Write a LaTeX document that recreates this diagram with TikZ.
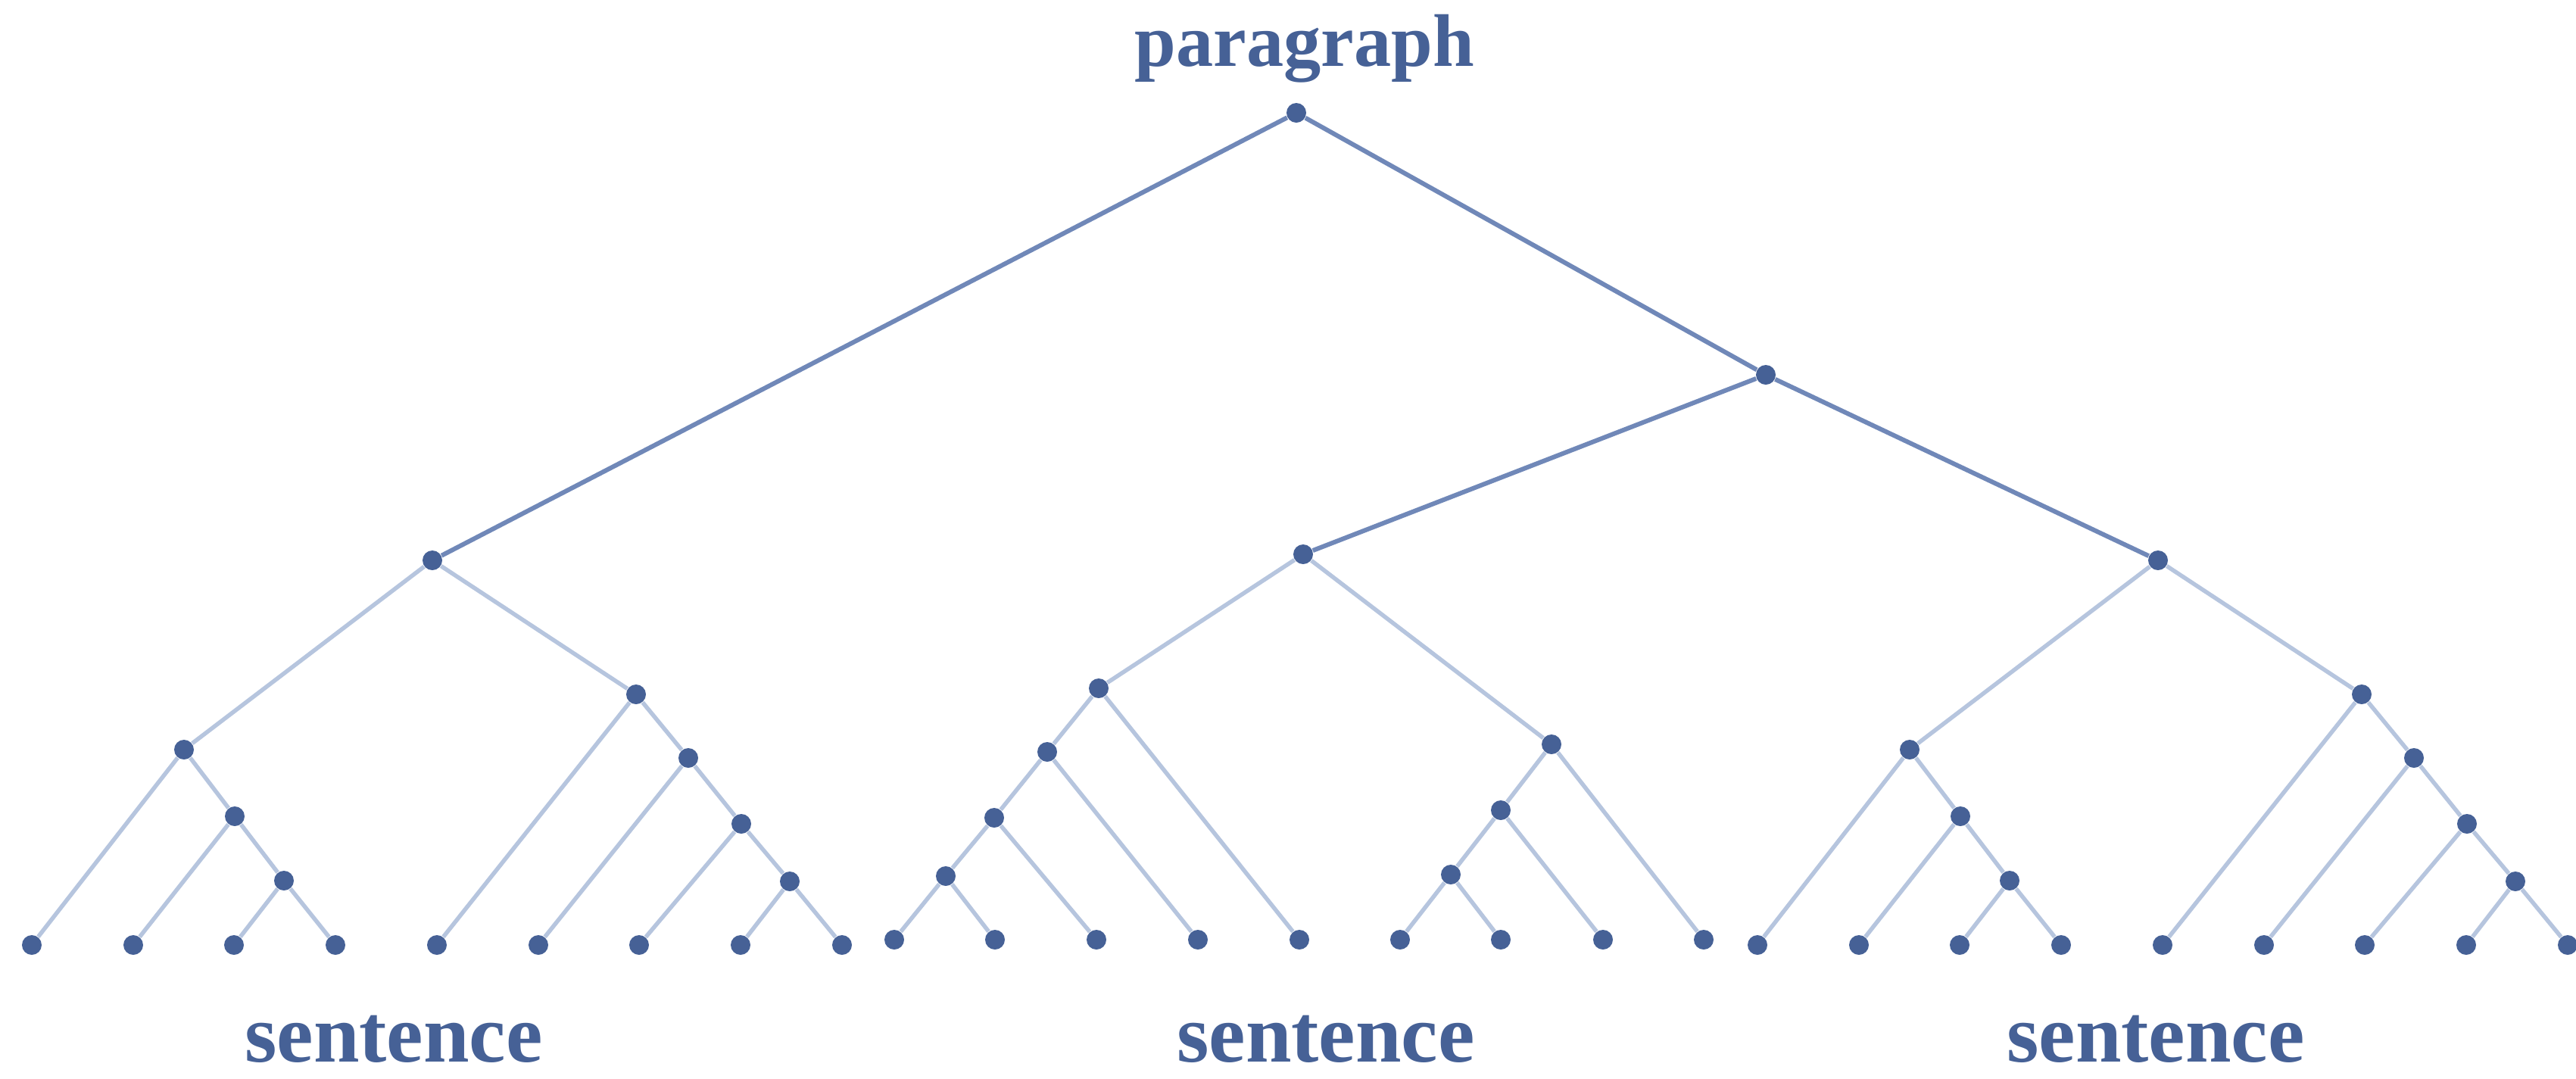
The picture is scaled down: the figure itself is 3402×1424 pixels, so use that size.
\documentclass[tikz,border=0pt]{standalone}
\usepackage{fontspec}
\setmainfont{Liberation Serif}
\usepackage{xcolor}
\definecolor{dotblue}{RGB}{70,97,150}
\definecolor{trunkblue}{RGB}{112,136,184}
\definecolor{twigblue}{RGB}{182,197,222}
\tikzset{
	treenode/.style = {
		circle,
		fill = dotblue,
		inner sep = 0pt,
		minimum size = 2.6mm,
	},
	trunk/.style = {draw = trunkblue, line width = 0.6mm},
	twig/.style = {draw = twigblue, line width = 0.55mm},
	heading/.style = {
		text = dotblue,
		inner sep = 0pt,
		anchor = base,
		font = \fontsize{31}{34}\selectfont\bfseries,
	}
}

\begin{document}
\begin{tikzpicture}[x = 0.1mm, y = -0.1mm]
	\useasboundingbox (0,0) rectangle (3402,1424);

	% top of the tree
	\node[heading, font = \fontsize{28}{32}\selectfont\bfseries](partitle) at (1723,87) {paragraph};
	\node[treenode](root) at (1712,149) {};
	\node[treenode](join) at (2332,495) {};

	% left and right sentence, same shape
	\foreach \s/\dx in {A/0, C/2279} {
		\node[treenode](\s) at (571+\dx,740) {};
		\node[treenode](\s1) at (243+\dx,990) {};
		\node[treenode](\s11) at (310+\dx,1078) {};
		\node[treenode](\s111) at (375+\dx,1163) {};
		\node[treenode](\s2) at (840+\dx,917) {};
		\node[treenode](\s21) at (909+\dx,1001) {};
		\node[treenode](\s211) at (979+\dx,1088) {};
		\node[treenode](\s2111) at (1043+\dx,1164) {};
		\foreach \i/\x in {1/42, 2/176, 3/309, 4/443, 5/577, 6/711, 7/844, 8/978, 9/1112}
			\node[treenode](leaf\s\i) at (\x+\dx,1248) {};

		\draw[twig](\s)--(\s1);
		\draw[twig](\s)--(\s2);
		\draw[twig](\s1)--(leaf\s1);
		\draw[twig](\s1)--(\s11);
		\draw[twig](\s11)--(leaf\s2);
		\draw[twig](\s11)--(\s111);
		\draw[twig](\s111)--(leaf\s3);
		\draw[twig](\s111)--(leaf\s4);
		\draw[twig](\s2)--(leaf\s5);
		\draw[twig](\s2)--(\s21);
		\draw[twig](\s21)--(leaf\s6);
		\draw[twig](\s21)--(\s211);
		\draw[twig](\s211)--(leaf\s7);
		\draw[twig](\s211)--(\s2111);
		\draw[twig](\s2111)--(leaf\s8);
		\draw[twig](\s2111)--(leaf\s9);
	}

	% middle sentence
	\node[treenode](B) at (1721,732) {};
	\node[treenode](B1) at (1451,909) {};
	\node[treenode](B11) at (1383,993) {};
	\node[treenode](B111) at (1313,1080) {};
	\node[treenode](B1111) at (1249,1157) {};
	\node[treenode](B2) at (2049,983) {};
	\node[treenode](B21) at (1982,1070) {};
	\node[treenode](B211) at (1916,1155) {};
	\foreach \i/\x in {1/1181, 2/1314, 3/1448, 4/1582, 5/1716, 6/1849, 7/1982, 8/2117, 9/2250}
		\node[treenode](leafB\i) at (\x,1241) {};

	\draw[twig](B)--(B1);
	\draw[twig](B)--(B2);
	\draw[twig](B1)--(B11);
	\draw[twig](B1)--(leafB5);
	\draw[twig](B11)--(B111);
	\draw[twig](B11)--(leafB4);
	\draw[twig](B111)--(B1111);
	\draw[twig](B111)--(leafB3);
	\draw[twig](B1111)--(leafB1);
	\draw[twig](B1111)--(leafB2);
	\draw[twig](B2)--(B21);
	\draw[twig](B2)--(leafB9);
	\draw[twig](B21)--(B211);
	\draw[twig](B21)--(leafB8);
	\draw[twig](B211)--(leafB6);
	\draw[twig](B211)--(leafB7);

	% paragraph level
	\draw[trunk](root)--(A);
	\draw[trunk](root)--(join);
	\draw[trunk](join)--(B);
	\draw[trunk](join)--(C);

	\node[heading](sentA) at (520,1402) {sentence};
	\node[heading](sentB) at (1751,1402) {sentence};
	\node[heading](sentC) at (2847,1402) {sentence};
\end{tikzpicture}
\end{document}
